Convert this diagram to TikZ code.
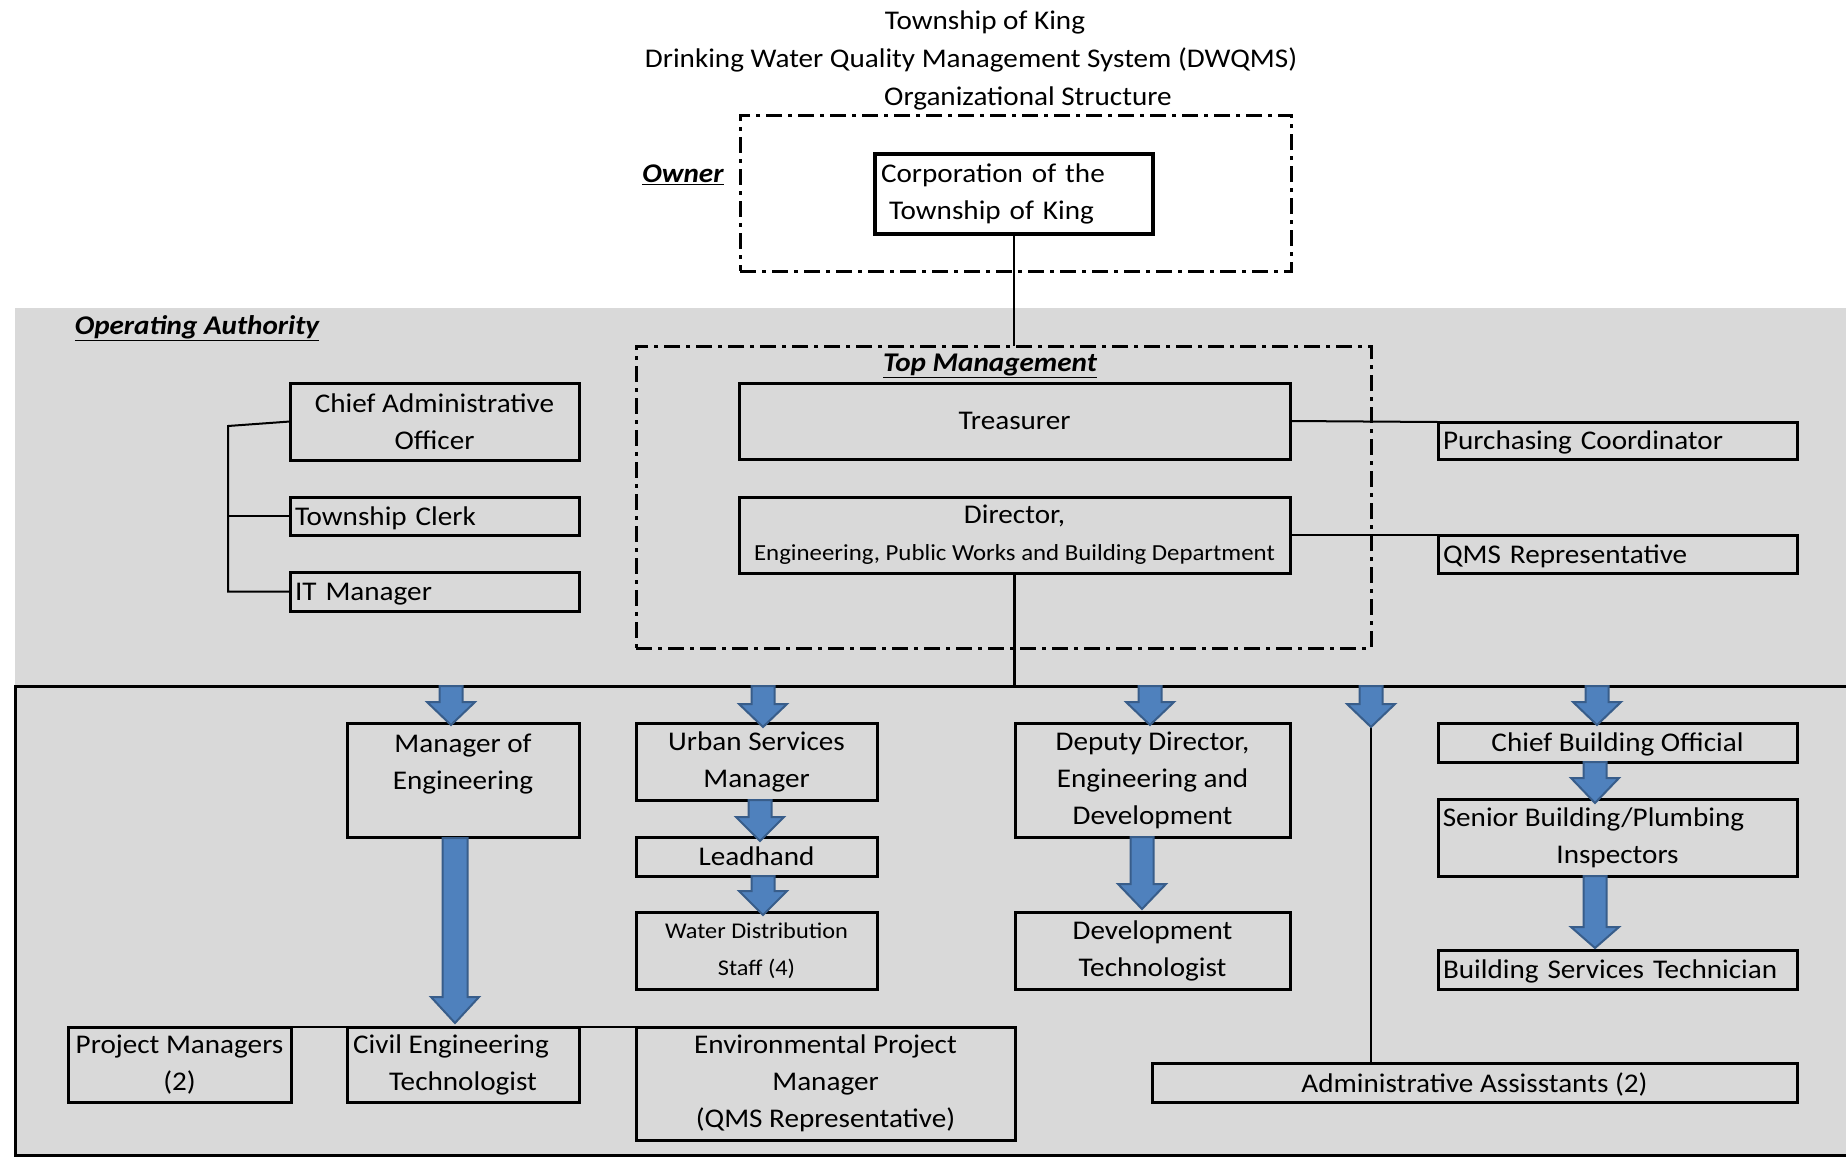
\documentclass[tikz,border=0pt]{standalone}
\usepackage{fontspec}
\setmainfont{Carlito}[FakeStretch=1.08]
\definecolor{bgray}{HTML}{D9D9D9}
\definecolor{arrowfill}{HTML}{4F81BD}
\definecolor{arrowedge}{HTML}{385D8A}
\newcommand{\blockarr}[5]{% x, top, tip, head length, half shaft
  \filldraw[barrow] ({#1-#5},#2) -- ({#1+#5},#2) -- ({#1+#5},{#3-#4}) -- ({#1+24},{#3-#4})
    -- (#1,#3) -- ({#1-24},{#3-#4}) -- ({#1-#5},{#3-#4}) -- cycle;}
\tikzset{
  box/.style={draw, line width=3pt, inner sep=0pt, outer sep=0pt, align=center,
    font=\fontsize{27}{37}\selectfont},
  lbox/.style={box, align=left, inner xsep=5pt},
  oneline/.style={text depth=0pt},
  wh/.style 2 args={minimum width=#1pt, minimum height=#2pt},
  conn/.style={line width=2pt},
  dashbox/.style={draw, line width=3pt, dash pattern=on 16pt off 6pt on 4pt off 6pt,
    inner sep=0pt, outer sep=0pt},
  barrow/.style={fill=arrowfill, draw=arrowedge, line width=2pt, line join=miter},
  lbl/.style={font=\fontsize{27}{37}\selectfont\bfseries\itshape},
  ttl/.style={font=\fontsize{27}{37}\selectfont},
}
\begin{document}
\begin{tikzpicture}[x=1pt, y=-1pt]
\useasboundingbox (0,0) rectangle (1846,1156);
\clip (0,0) rectangle (1846,1156);
\fill[white] (0,0) rectangle (1846,1156);
\fill[bgray] (15,308) rectangle (1850,1160);
\coordinate (lowtop) at (15,686);
\draw[line width=3pt] (lowtop) rectangle (1852,1155);

% titles
\node[ttl] (t1) at (985,22) {Township of King};
\node[ttl] (t2) at (971,60) {Drinking Water Quality Management System (DWQMS)};
\node[ttl] (t3) at (1028,98) {Organizational Structure};

% owner
\node[dashbox, wh={551}{156}] (ownerbox) at (1015.5,193) {};
\node[lbl] (ownerlbl) at (683,175) {\underline{Owner}};
\node[lbox, line width=4.5pt, wh={278}{80}, text width=266pt, inner xsep=6pt] (corp) at (1014,194)
  {Corporation of the\\\hspace*{8pt}Township of King};

% operating authority
\node[lbl] (oplbl) at (197,328) {\underline{Operating Authority}};
\node[dashbox, wh={735}{302}] (tmbox) at (1003.5,497) {};
\node[lbl] (tmlbl) at (990,366) {\underline{Top Management}};

\node[box, wh={289}{77}] (cao) at (434.5,421.5) {Chief Administrative\\Officer};
\node[lbox, oneline, wh={289}{38}, text width=279pt] (clerk) at (434.5,516) {Township Clerk};
\node[lbox, oneline, wh={289}{39}, text width=279pt] (it) at (434.5,591.5) {IT Manager};

\node[box, wh={551}{76}] (treas) at (1014.5,421) {Treasurer};
\node[box, wh={551}{76}] (dir) at (1014.5,535)
  {Director,\\{\fontsize{23}{30}\selectfont Engineering, Public Works and Building Department}};
\node[lbox, oneline, wh={359}{37}, text width=349pt] (purch) at (1617.5,440.5) {Purchasing Coordinator};
\node[lbox, oneline, wh={359}{38}, text width=349pt] (qms) at (1617.5,554) {QMS Representative};

% lower area
\node[box, wh={232}{114}] (moe) at (463,780) {Manager of\\Engineering\\\mbox{}};
\node[box, wh={241}{77}] (usm) at (756.5,761.5) {Urban Services\\Manager};
\node[box, oneline, wh={241}{39}] (lead) at (756.5,856.5) {Leadhand};
\node[box, wh={241}{77}, font=\fontsize{22.5}{37}\selectfont] (wds) at (756.5,950.5) {Water Distribution\\Staff (4)};
\node[box, wh={223}{75}] (pm) at (179.5,1064.5) {Project Managers\\(2)};
\node[box, wh={232}{75}] (cet) at (463,1064.5) {Civil Engineering\hspace{24pt}\mbox{}\\Technologist};
\node[box, wh={379}{113}] (env) at (825.5,1083.5) {Environmental Project\\Manager\\(QMS Representative)};
\node[box, wh={275}{114}] (dd) at (1152.5,780) {Deputy Director,\\Engineering and\\Development};
\node[box, wh={275}{77}] (dt) at (1152.5,950.5) {Development\\Technologist};
\node[box, oneline, wh={359}{39}] (cbo) at (1617.5,742.5) {Chief Building Official};
\node[box, wh={359}{77}] (sbpi) at (1617.5,837.5) {Senior Building/Plumbing\hspace{48pt}\mbox{}\\Inspectors};
\node[lbox, oneline, wh={359}{39}, text width=349pt] (bst) at (1617.5,969.5) {Building Services Technician};
\node[box, oneline, wh={645}{39}] (admin) at (1474.5,1082.5) {Administrative Assisstants (2)};

% thin connectors
\draw[line width=2.5pt] (corp.south) -- (corp.south |- tmbox.north);
\draw[conn] (treas.east) -- (purch.north west);
\draw[conn] (dir.east) -- (qms.north west);
\draw[line width=2.5pt] (dir.south) -- (dir.south |- lowtop);
\coordinate (brk) at (228,426);
\draw[conn] (cao.west) -- (brk) |- (it.west);
\draw[conn] (brk |- clerk.west) -- (clerk.west);
\draw[conn] (pm.north east) -- (env.north west);
\coordinate (admtip) at (1371,727);
\draw[conn] (admtip) -- (admtip |- admin.north);

% block arrows
\blockarr{451}{686}{725}{23}{11.5}
\blockarr{763}{686}{727}{23}{11.5}
\blockarr{760}{800}{841}{24}{11.5}
\blockarr{763}{876}{915}{24}{11.5}
\blockarr{455}{838}{1023}{26}{12.5}
\blockarr{1150}{686}{725}{23}{11.5}
\blockarr{1142}{837}{909}{25}{11.5}
\blockarr{1371}{686}{727}{23}{11.5}
\blockarr{1597}{686}{725}{23}{11.5}
\blockarr{1595}{762}{803}{25}{11.5}
\blockarr{1595}{876}{948}{21}{11.5}
\end{tikzpicture}
\end{document}
